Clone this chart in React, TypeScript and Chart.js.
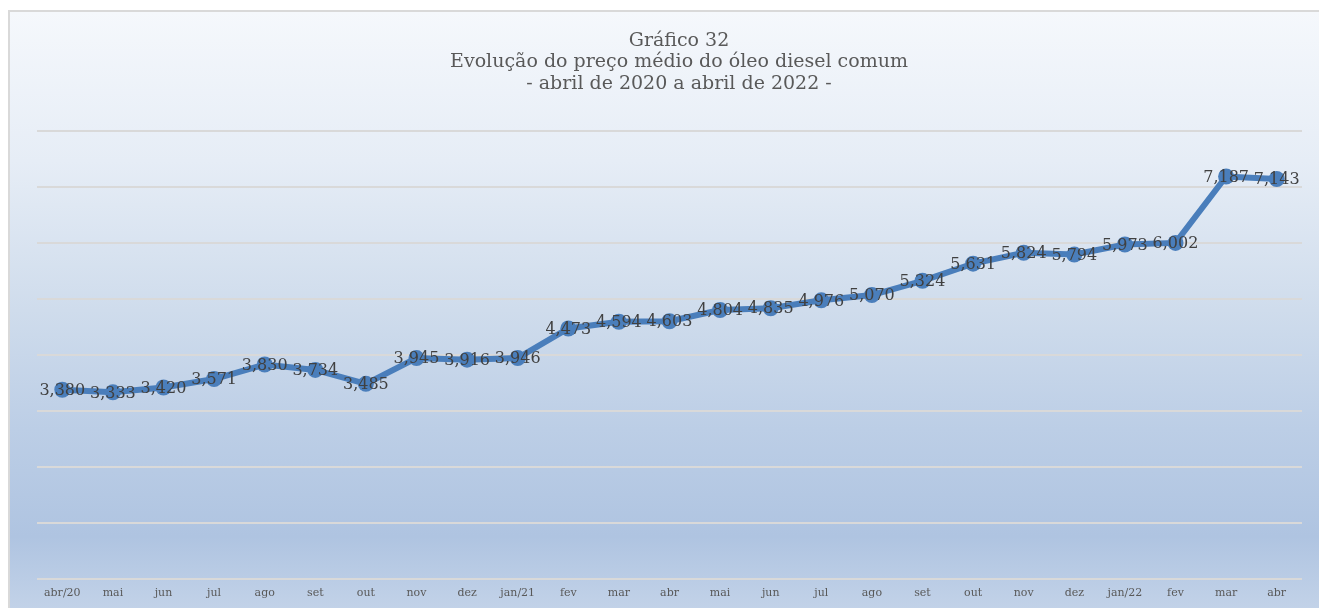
import React, { useEffect, useRef } from "react";
import { Chart, registerables } from "chart.js";

Chart.register(...registerables);

const categories = [
  "abr/20", "mai", "jun", "jul", "ago", "set", "out", "nov", "dez", "jan/21",
  "fev", "mar", "abr", "mai", "jun", "jul", "ago", "set", "out", "nov", "dez",
  "jan/22", "fev", "mar", "abr",
];

const prices = [
  3.38, 3.333, 3.42, 3.571, 3.83, 3.734, 3.485, 3.945, 3.916, 3.946,
  4.473, 4.594, 4.603, 4.804, 4.835, 4.976, 5.07, 5.324, 5.631, 5.824, 5.794,
  5.973, 6.002, 7.187, 7.143,
];

const titleLines = [
  "Gráfico 32",
  "Evolução do preço médio do óleo diesel comum",
  "- abril de 2020 a abril de 2022 -",
];

const SERIF = "'DejaVu Serif', serif";

const fmt = (v: number) => v.toFixed(3).replace(".", ",");

export default function App() {
  const canvasRef = useRef<HTMLCanvasElement | null>(null);

  useEffect(() => {
    const canvas = canvasRef.current;
    if (!canvas) return;

    const titlePlugin = {
      id: "customTitle",
      afterDraw(chart: any) {
        const ctx = chart.ctx;
        ctx.save();
        ctx.fillStyle = "#595959";
        ctx.font = `19px ${SERIF}`;
        ctx.textAlign = "center";
        ctx.textBaseline = "middle";
        const cx = 671;
        titleLines.forEach((t, i) => {
          ctx.fillText(t, cx, 31 + i * 21.5);
        });
        ctx.restore();
      },
    };

    const labelPlugin = {
      id: "pointLabels",
      afterDatasetsDraw(chart: any) {
        const ctx = chart.ctx;
        const meta = chart.getDatasetMeta(0);
        ctx.save();
        ctx.fillStyle = "#404040";
        ctx.font = `16px ${SERIF}`;
        ctx.textAlign = "center";
        ctx.textBaseline = "middle";
        meta.data.forEach((pt: any, i: number) => {
          ctx.fillText(fmt(prices[i]), pt.x, pt.y + 1);
        });
        ctx.restore();
      },
    };

    const chart = new Chart(canvas, {
      type: "line",
      data: {
        labels: categories,
        datasets: [
          {
            data: prices,
            borderColor: "#4a7ebb",
            backgroundColor: "#4a7ebb",
            borderWidth: 6,
            pointRadius: 8,
            pointBorderWidth: 0,
            pointBackgroundColor: "#4a7ebb",
            tension: 0,
          },
        ],
      },
      options: {
        animation: false,
        responsive: false,
        maintainAspectRatio: false,
        layout: { padding: { left: 29, right: 17, top: 121, bottom: 0 } },
        plugins: {
          legend: { display: false },
          title: { display: false },
          tooltip: { enabled: false },
        },
        scales: {
          x: {
            offset: true,
            grid: { display: false, drawTicks: false },
            border: { display: false },
            ticks: {
              color: "#595959",
              font: { family: SERIF, size: 11 },
              padding: 8,
              maxRotation: 0,
              autoSkip: false,
            },
            afterFit: (scale: any) => {
              scale.height = 29;
            },
          },
          y: {
            min: 0,
            max: 8,
            ticks: { display: false, stepSize: 1 },
            grid: { color: "#d9d9d9", lineWidth: 2, drawTicks: false },
            border: { display: false },
            afterFit: (scale: any) => {
              scale.width = 0;
            },
          },
        },
      },
      plugins: [titlePlugin, labelPlugin],
    });

    return () => chart.destroy();
  }, []);

  return (
    <div
      style={{
        position: "fixed",
        left: 8,
        top: 10,
        width: 1320,
        height: 600,
        boxSizing: "border-box",
        border: "2px solid #d9d9d9",
        background:
          "linear-gradient(to bottom, #f5f8fc 0%, #e6edf6 25%, #cfdcec 50%, #bccee6 70%, #afc4e1 88%, #c2d2e8 100%)",
        overflow: "hidden",
      }}
    >
      <canvas
        ref={canvasRef}
        width={1311}
        height={598}
        style={{ position: "absolute", left: -2, top: -2, width: 1311, height: 598 }}
      />
    </div>
  );
}
